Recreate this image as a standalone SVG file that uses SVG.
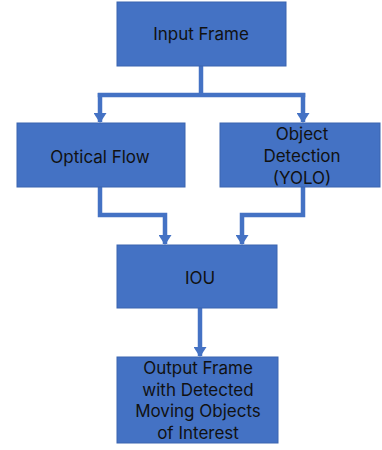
<svg xmlns="http://www.w3.org/2000/svg" width="382" height="450" viewBox="0 0 382 450">
<style>
.box{fill:#4472C4;stroke:#3a64b0;stroke-width:1}
.lbl{font-family:Inter,"Open Sans","Liberation Sans",sans-serif;font-size:17px;fill:#111;text-anchor:middle;dominant-baseline:central}
.conn{fill:none;stroke:#4472C4;stroke-width:4.5}
</style>
<defs>
<marker id="a" markerUnits="userSpaceOnUse" markerWidth="10" markerHeight="13" viewBox="0 0 10 13" refX="9" refY="6.5" orient="auto">
<path d="M0,0 L10,6.5 L0,13 Z" fill="#4472C4"/>
</marker>
</defs>
<g id="connectors">
<path class="conn" d="M201,66 V95"/>
<path class="conn" d="M97.75,95 H305.25"/>
<path class="conn" d="M100,93 V122" marker-end="url(#a)"/>
<path class="conn" d="M303,93 V122" marker-end="url(#a)"/>
<path class="conn" d="M100,187 V215 H165 V244" marker-end="url(#a)"/>
<path class="conn" d="M303,187 V215 H242 V244" marker-end="url(#a)"/>
<path class="conn" d="M200,308 V356" marker-end="url(#a)"/>
</g>
<g id="input-frame">
<rect class="box" x="117" y="2" width="169" height="64"/>
<text class="lbl" x="201" y="34">Input Frame</text>
</g>
<g id="optical-flow">
<rect class="box" x="17" y="123" width="168" height="64"/>
<text class="lbl" x="100" y="157">Optical Flow</text>
</g>
<g id="object-detection">
<rect class="box" x="220" y="123" width="160" height="64"/>
<text class="lbl" x="302" y="134">Object</text>
<text class="lbl" x="302" y="156">Detection</text>
<text class="lbl" x="302" y="178">(YOLO)</text>
</g>
<g id="iou">
<rect class="box" x="117" y="245" width="160" height="63"/>
<text class="lbl" x="200" y="278">IOU</text>
</g>
<g id="output-frame">
<rect class="box" x="117" y="357" width="161" height="86"/>
<text class="lbl" x="198" y="368">Output Frame</text>
<text class="lbl" x="198" y="389.5">with Detected</text>
<text class="lbl" x="198" y="411">Moving Objects</text>
<text class="lbl" x="198" y="432.5">of Interest</text>
</g>
</svg>
